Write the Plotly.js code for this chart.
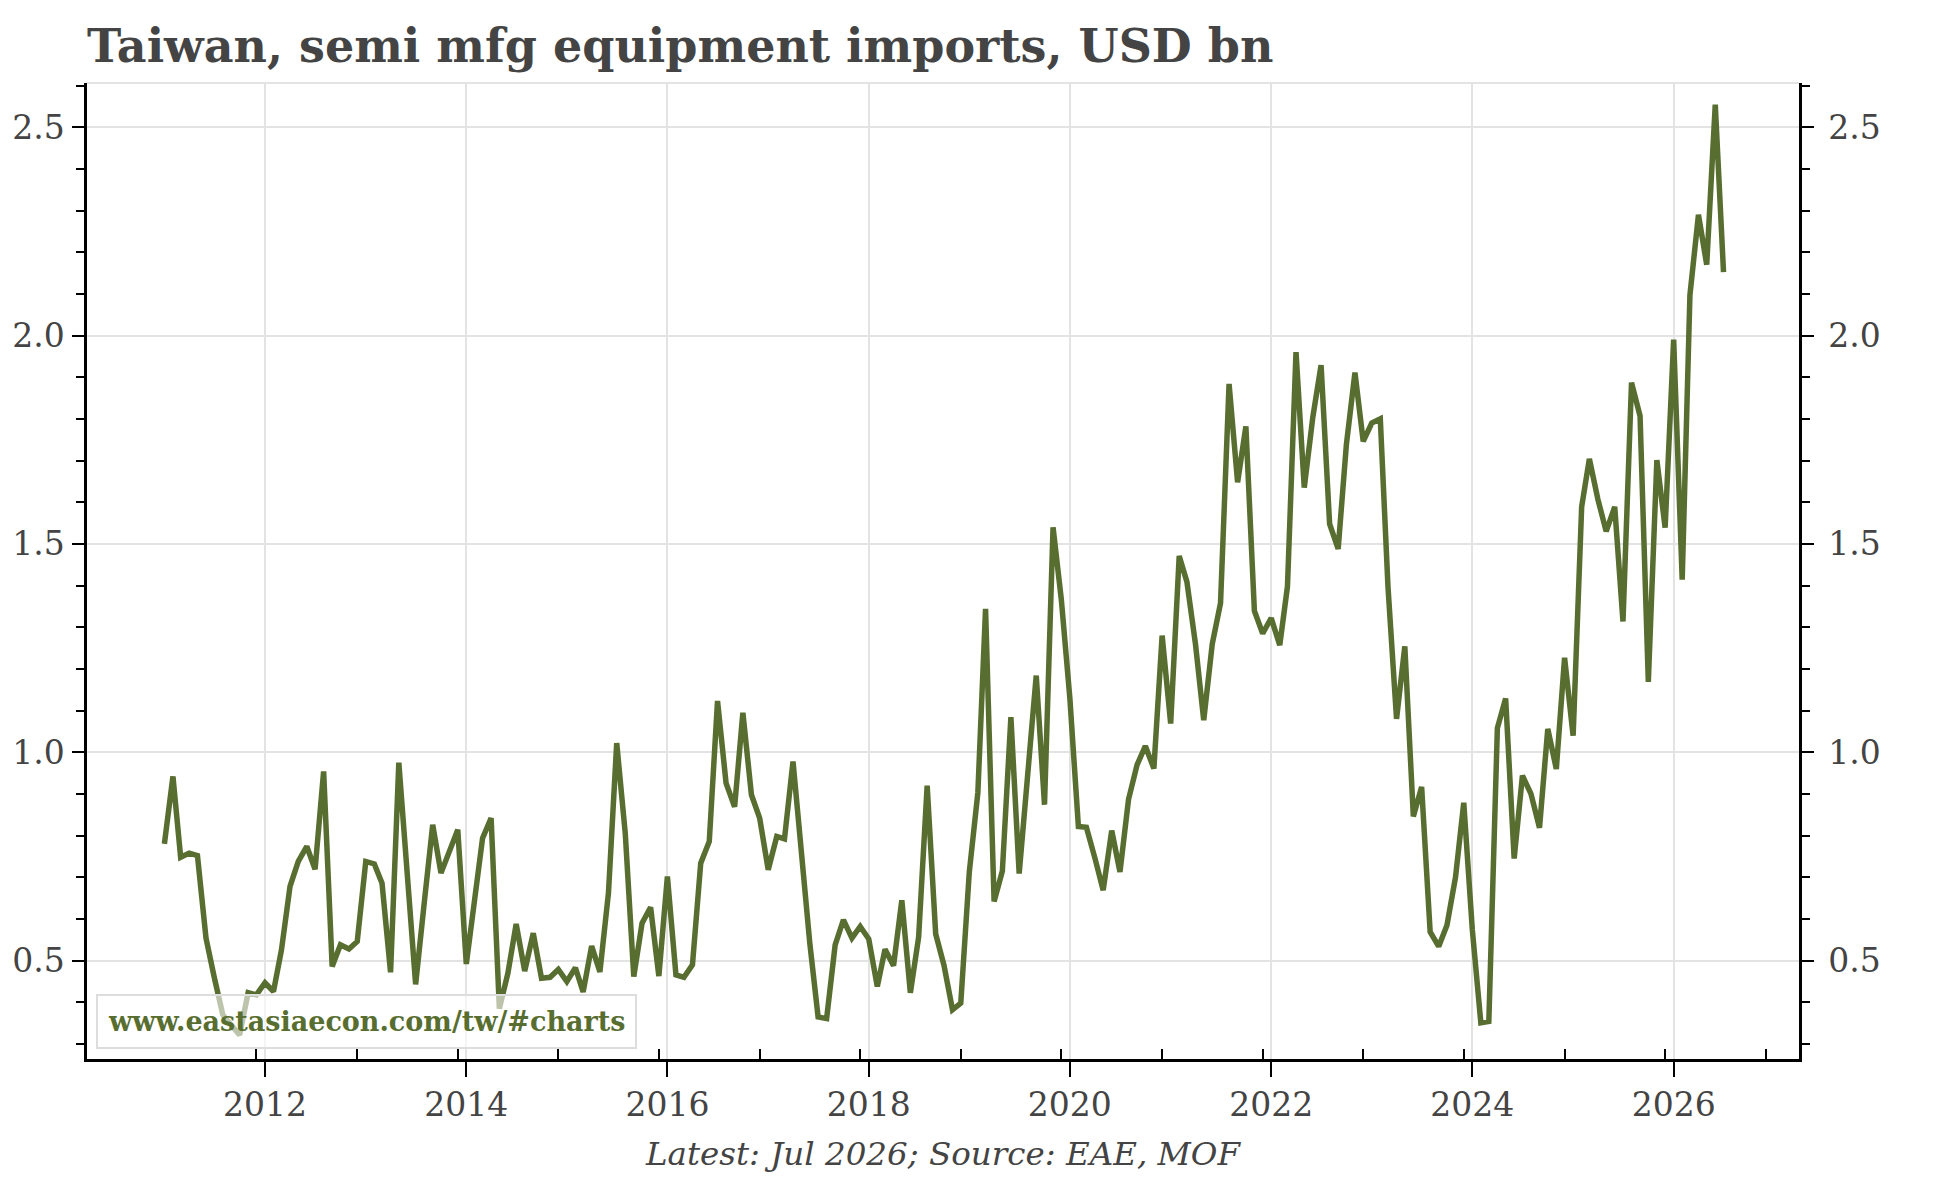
<!DOCTYPE html>
<html>
<head>
<meta charset="utf-8">
<script src="https://cdn.plot.ly/plotly-3.0.1.min.js"></script>
<style>
  html, body { margin: 0; padding: 0; background: #fff; }
  #chart { width: 1944px; height: 1178px; }
</style>
</head>
<body>
<div id="chart"></div>
<script>
// Monthly values, USD bn, Jan 2011 .. Jul 2026
var y2011 = [0.78, 0.942, 0.748, 0.758, 0.752, 0.554, 0.46, 0.37, 0.345, 0.322, 0.423, 0.418];
var y2012 = [0.447, 0.426, 0.526, 0.678, 0.738, 0.774, 0.719, 0.954, 0.486, 0.538, 0.528, 0.546];
var y2013 = [0.738, 0.732, 0.686, 0.472, 0.975, 0.71, 0.443, 0.637, 0.826, 0.710, 0.762, 0.814];
var y2014 = [0.492, 0.64, 0.794, 0.842, 0.385, 0.47, 0.588, 0.475, 0.566, 0.458, 0.46, 0.479];
var y2015 = [0.45, 0.483, 0.425, 0.535, 0.473, 0.662, 1.022, 0.806, 0.462, 0.59, 0.628, 0.463];
var y2016 = [0.702, 0.466, 0.46, 0.49, 0.734, 0.786, 1.123, 0.926, 0.869, 1.095, 0.898, 0.842];
var y2017 = [0.718, 0.798, 0.792, 0.978, 0.76, 0.542, 0.365, 0.361, 0.538, 0.598, 0.554, 0.582];
var y2018 = [0.552, 0.438, 0.527, 0.488, 0.645, 0.423, 0.556, 0.92, 0.564, 0.489, 0.382, 0.398];
var y2019 = [0.713, 0.903, 1.344, 0.642, 0.715, 1.084, 0.709, 0.96, 1.184, 0.874, 1.54, 1.367];
var y2020 = [1.13, 0.822, 0.82, 0.746, 0.669, 0.812, 0.713, 0.887, 0.97, 1.015, 0.961, 1.28];
var y2021 = [1.069, 1.471, 1.409, 1.26, 1.077, 1.26, 1.358, 1.884, 1.648, 1.782, 1.339, 1.285];
var y2022 = [1.322, 1.257, 1.398, 1.96, 1.635, 1.804, 1.929, 1.548, 1.488, 1.739, 1.911, 1.746];
var y2023 = [1.79, 1.80, 1.396, 1.08, 1.254, 0.846, 0.917, 0.569, 0.534, 0.585, 0.70, 0.879];
var y2024 = [0.575, 0.351, 0.354, 1.058, 1.129, 0.745, 0.944, 0.90, 0.819, 1.056, 0.96, 1.227];
var y2025 = [1.04, 1.589, 1.704, 1.607, 1.53, 1.589, 1.314, 1.887, 1.807, 1.169, 1.701, 1.539];
var y2026 = [1.99, 1.414, 2.097, 2.29, 2.17, 2.554, 2.152];

var years = [2011, 2012, 2013, 2014, 2015, 2016, 2017, 2018, 2019, 2020, 2021, 2022, 2023, 2024, 2025, 2026];
var yearly = [y2011, y2012, y2013, y2014, y2015, y2016, y2017, y2018, y2019, y2020, y2021, y2022, y2023, y2024, y2025, y2026];

var dates = [];
var values = [];
for (var i = 0; i < years.length; i++) {
    for (var m = 0; m < yearly[i].length; m++) {
        dates.push(years[i] + '-' + (m < 9 ? '0' : '') + (m + 1) + '-01');
        values.push(yearly[i][m]);
    }
}

// small ticks sit one month ahead of each year
var minorTicks = [];
for (var k = 0; k < years.length; k++) {
    minorTicks.push(years[k] + '-12-01');
}

var green = '#586e30';
var grey = '#444444';
var gridGrey = '#e3e3e3';
var serif = 'DejaVu Serif, Georgia, serif';

var trace = {
    x: dates,
    y: values,
    type: 'scatter',
    mode: 'lines',
    line: {color: green, width: 5.5},
    hoverinfo: 'x+y'
};

// same series on the right axis, hidden, only so that axis gets drawn
var traceRight = {
    x: dates,
    y: values,
    yaxis: 'y2',
    type: 'scatter',
    mode: 'lines',
    line: {color: 'rgba(0,0,0,0)', width: 0},
    hoverinfo: 'skip',
    showlegend: false
};

var yRange = [0.264, 2.606];

var layout = {
    width: 1944,
    height: 1178,
    margin: {l: 87, r: 145, t: 83, b: 119},
    paper_bgcolor: '#ffffff',
    plot_bgcolor: '#ffffff',
    showlegend: false,
    font: {family: serif, color: grey, size: 33},
    title: {
        text: '<b>Taiwan, semi mfg equipment imports, USD bn</b>',
        font: {family: serif, size: 46, color: grey},
        x: 87 / 1944,
        xanchor: 'left',
        xref: 'container',
        y: 1 - 46 / 1178,
        yanchor: 'middle',
        yref: 'container'
    },
    xaxis: {
        type: 'date',
        range: ['2010-03-26', '2027-04-01'],
        tickmode: 'linear',
        tick0: '2012-01-01',
        dtick: 'M24',
        tickformat: '%Y',
        ticks: 'outside',
        ticklen: 15,
        tickwidth: 2,
        tickcolor: '#000',
        ticklabelstandoff: 0,
        showline: true,
        linecolor: '#000',
        linewidth: 2.5,
        showgrid: true,
        gridcolor: gridGrey,
        gridwidth: 2,
        zeroline: false,
        tickfont: {family: serif, size: 33, color: grey},
        minor: {
            tickmode: 'array',
            tickvals: minorTicks,
            ticks: 'inside',
            ticklen: 10,
            tickwidth: 2,
            tickcolor: '#000',
            showgrid: false
        }
    },
    yaxis: {
        range: yRange,
        tickmode: 'linear',
        tick0: 0,
        dtick: 0.5,
        tickformat: '.1f',
        ticks: 'outside',
        ticklen: 12,
        tickwidth: 2,
        tickcolor: '#000',
        ticklabelstandoff: 1,
        showline: true,
        linecolor: '#000',
        linewidth: 2.5,
        showgrid: true,
        gridcolor: gridGrey,
        gridwidth: 2,
        zeroline: false,
        tickfont: {family: serif, size: 33, color: grey},
        minor: {dtick: 0.1, tick0: 0, ticks: 'outside', ticklen: 8, tickwidth: 2, tickcolor: '#000', showgrid: false}
    },
    yaxis2: {
        range: yRange,
        overlaying: 'y',
        side: 'right',
        tickmode: 'linear',
        tick0: 0,
        dtick: 0.5,
        tickformat: '.1f',
        ticks: 'outside',
        ticklen: 12,
        tickwidth: 2,
        tickcolor: '#000',
        ticklabelstandoff: 8,
        showline: true,
        linecolor: '#000',
        linewidth: 2.5,
        showgrid: false,
        zeroline: false,
        tickfont: {family: serif, size: 33, color: grey},
        minor: {dtick: 0.1, tick0: 0, ticks: 'outside', ticklen: 8, tickwidth: 2, tickcolor: '#000', showgrid: false}
    },
    shapes: [
        {type: 'line', xref: 'paper', yref: 'paper', x0: 0, x1: 1, y0: 1, y1: 1,
         line: {color: gridGrey, width: 2}}
    ],
    annotations: [
        {
            text: '<b>www.eastasiaecon.com/tw/#charts</b>',
            xref: 'paper', yref: 'paper',
            x: 0.0055, y: 0.0102,
            xanchor: 'left', yanchor: 'bottom',
            showarrow: false,
            font: {family: serif, size: 27, color: green},
            bgcolor: 'rgba(255,255,255,0.6)',
            bordercolor: '#dddddd',
            borderwidth: 2,
            borderpad: 10
        },
        {
            text: '<i>Latest: Jul 2026; Source: EAE, MOF</i>',
            xref: 'paper', yref: 'paper',
            x: 0.5, y: -0.097,
            xanchor: 'center', yanchor: 'middle',
            showarrow: false,
            font: {family: serif, size: 32.5, color: grey}
        }
    ]
};

Plotly.newPlot('chart', [trace, traceRight], layout, {displayModeBar: false});
</script>
</body>
</html>
